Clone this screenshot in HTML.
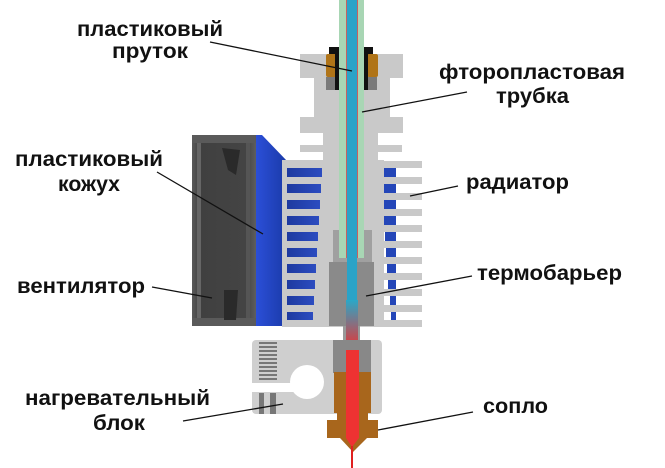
<!DOCTYPE html>
<html><head><meta charset="utf-8"><style>
html,body{margin:0;padding:0;background:#fff;}
svg{display:block;}
text{font-family:"Liberation Sans",Arial,sans-serif;font-weight:bold;font-size:21px;fill:#111;}
</style></head><body>
<svg width="665" height="468" viewBox="0 0 665 468" xmlns="http://www.w3.org/2000/svg">
<defs>
<linearGradient id="blueG" x1="0" x2="1" y1="0" y2="0">
<stop offset="0" stop-color="#2b4fd8"/><stop offset="1" stop-color="#1a3aa8"/></linearGradient>
<linearGradient id="finB" x1="0" x2="1" y1="0" y2="0">
<stop offset="0" stop-color="#1e3aa0"/><stop offset="1" stop-color="#2c4cc0"/></linearGradient>
<linearGradient id="br" x1="0" x2="0" y1="0" y2="1">
<stop offset="0" stop-color="#2aa8c8"/><stop offset="1" stop-color="#ee3030"/></linearGradient>
<linearGradient id="fanG" x1="0" x2="1" y1="0" y2="0">
<stop offset="0" stop-color="#5a5a5a"/><stop offset="0.12" stop-color="#404040"/><stop offset="0.85" stop-color="#444"/><stop offset="1" stop-color="#5e5e5e"/></linearGradient>
</defs>

<!-- fan -->
<rect x="192" y="135" width="64" height="191" fill="url(#fanG)"/>
<rect x="192" y="135" width="64" height="8" fill="#5a5a5a"/>
<rect x="192" y="318" width="64" height="8" fill="#5a5a5a"/>
<rect x="197" y="143" width="4" height="175" fill="#666"/>
<rect x="246" y="143" width="4" height="175" fill="#555"/>
<path d="M222 148 L240 150 L236 175 L228 170 Z" fill="#2a2a2a"/>
<path d="M224 290 L238 290 L236 320 L224 320 Z" fill="#2a2a2a"/>

<!-- blue shroud -->
<path d="M256 135 L262 135 L287 161 L287 326 L256 326 Z" fill="url(#blueG)"/>

<!-- heatsink top -->
<rect x="300" y="54" width="103" height="24" fill="#c9c9c9"/>
<rect x="314" y="77" width="76" height="41" fill="#c9c9c9"/>
<rect x="300" y="117" width="103" height="16" fill="#c9c9c9"/>
<rect x="323" y="133" width="55" height="28" fill="#c9c9c9"/>
<rect x="300" y="145" width="102" height="7" fill="#c9c9c9"/>

<!-- fin area -->
<rect x="282" y="160" width="41" height="167" fill="#c9c9c9"/>
<rect x="322" y="160" width="59" height="167" fill="#c9c9c9"/>
<g fill="url(#finB)">
<rect x="287" y="168" width="35" height="9"/>
<rect x="287" y="184" width="34" height="9"/>
<rect x="287" y="200" width="33" height="9"/>
<rect x="287" y="216" width="32" height="9"/>
<rect x="287" y="232" width="31" height="9"/>
<rect x="287" y="248" width="30" height="9"/>
<rect x="287" y="264" width="29" height="9"/>
<rect x="287" y="280" width="28" height="9"/>
<rect x="287" y="296" width="27" height="9"/>
<rect x="287" y="312" width="26" height="8"/>
</g>
<g fill="#c9c9c9">
<rect x="381" y="161" width="41" height="7"/>
<rect x="381" y="177" width="41" height="7"/>
<rect x="381" y="193" width="41" height="7"/>
<rect x="381" y="209" width="41" height="7"/>
<rect x="381" y="225" width="41" height="7"/>
<rect x="381" y="241" width="41" height="7"/>
<rect x="381" y="257" width="41" height="7"/>
<rect x="381" y="273" width="41" height="7"/>
<rect x="381" y="289" width="41" height="7"/>
<rect x="381" y="305" width="41" height="7"/>
<rect x="381" y="320" width="41" height="7"/>
</g>
<g fill="#2446b8">
<rect x="381" y="168" width="15" height="9"/>
<rect x="382" y="184" width="14" height="9"/>
<rect x="383" y="200" width="13" height="9"/>
<rect x="384" y="216" width="12" height="9"/>
<rect x="385" y="232" width="11" height="9"/>
<rect x="386" y="248" width="10" height="9"/>
<rect x="387" y="264" width="9" height="9"/>
<rect x="388" y="280" width="8" height="9"/>
<rect x="390" y="296" width="6" height="9"/>
<rect x="391" y="312" width="5" height="8"/>
</g>
<rect x="381" y="160" width="3" height="167" fill="#c9c9c9"/>

<!-- collet -->
<rect x="326" y="77" width="13" height="13" fill="#7a7a7a"/>
<rect x="364" y="77" width="13" height="13" fill="#7a7a7a"/>
<rect x="329" y="47" width="10" height="8" fill="#111"/>
<rect x="364" y="47" width="9" height="8" fill="#111"/>
<rect x="326" y="54" width="11" height="23" rx="2" fill="#b07418"/>
<rect x="367" y="54" width="11" height="23" rx="2" fill="#b07418"/>
<rect x="335" y="54" width="4" height="36" fill="#111"/>
<rect x="364" y="54" width="4" height="36" fill="#111"/>

<!-- heat break (behind tube) -->
<rect x="333" y="230" width="39" height="34" fill="#a0a0a0"/>
<rect x="329" y="262" width="45" height="64" fill="#8a8a8a"/>

<!-- tube -->
<rect x="339" y="0" width="25" height="258" fill="#a8d6b4"/>
<rect x="346" y="0" width="1" height="258" fill="#c86060"/>
<rect x="357" y="0" width="1" height="258" fill="#c86060"/>
<rect x="347" y="0" width="10" height="330" fill="#2aa3c8"/>

<!-- gap section -->
<rect x="343" y="326" width="17" height="16" fill="#999"/>
<rect x="346" y="300" width="12" height="50" fill="url(#br)"/>

<!-- heater block -->
<rect x="252" y="340" width="130" height="74" rx="4" fill="#cfcfcf"/>
<rect x="333" y="340" width="38" height="33" fill="#888"/>
<g fill="#777">
<rect x="259" y="342" width="18" height="2"/><rect x="259" y="346" width="18" height="2"/>
<rect x="259" y="350" width="18" height="2"/><rect x="259" y="354" width="18" height="2"/>
<rect x="259" y="358" width="18" height="2"/><rect x="259" y="362" width="18" height="2"/>
<rect x="259" y="366" width="18" height="2"/><rect x="259" y="370" width="18" height="2"/>
<rect x="259" y="374" width="18" height="2"/><rect x="259" y="378" width="18" height="2"/>
<rect x="259" y="393" width="5" height="21"/><rect x="270" y="393" width="6" height="21"/>
</g>
<rect x="250" y="383" width="58" height="9" fill="#fff"/>
<circle cx="307" cy="382" r="17" fill="#fff"/>

<!-- nozzle -->
<rect x="334" y="372" width="37" height="41" fill="#a8661c"/>
<rect x="337" y="410" width="31" height="11" fill="#a8661c"/>
<rect x="327" y="420" width="51" height="18" fill="#a8661c"/>
<path d="M340 438 L367 438 L353 452 Z" fill="#a8661c"/>
<path d="M346 350 L359 350 L359 438 L352 447 L346 438 Z" fill="#ee3232"/>
<rect x="351" y="446" width="2" height="22" fill="#e02020"/>

<!-- leader lines -->
<g stroke="#111" stroke-width="1.3" fill="none">
<line x1="210" y1="42" x2="352" y2="71"/>
<line x1="467" y1="92" x2="362" y2="112"/>
<line x1="157" y1="172" x2="263" y2="234"/>
<line x1="458" y1="186" x2="410" y2="196"/>
<line x1="152" y1="287" x2="212" y2="298"/>
<line x1="472" y1="276" x2="366" y2="296"/>
<line x1="183" y1="421" x2="283" y2="404"/>
<line x1="473" y1="412" x2="378" y2="430"/>
</g>

<!-- labels -->
<text x="77" y="36" textLength="146" lengthAdjust="spacingAndGlyphs">пластиковый</text>
<text x="112" y="58" textLength="76" lengthAdjust="spacingAndGlyphs">пруток</text>
<text x="439" y="79" textLength="186" lengthAdjust="spacingAndGlyphs">фторопластовая</text>
<text x="496" y="103" textLength="73" lengthAdjust="spacingAndGlyphs">трубка</text>
<text x="15" y="166" textLength="148" lengthAdjust="spacingAndGlyphs">пластиковый</text>
<text x="58" y="191" textLength="62" lengthAdjust="spacingAndGlyphs">кожух</text>
<text x="466" y="189" textLength="103" lengthAdjust="spacingAndGlyphs">радиатор</text>
<text x="477" y="280" textLength="145" lengthAdjust="spacingAndGlyphs">термобарьер</text>
<text x="17" y="293" textLength="128" lengthAdjust="spacingAndGlyphs">вентилятор</text>
<text x="25" y="405" textLength="185" lengthAdjust="spacingAndGlyphs">нагревательный</text>
<text x="93" y="430" textLength="52" lengthAdjust="spacingAndGlyphs">блок</text>
<text x="483" y="413" textLength="65" lengthAdjust="spacingAndGlyphs">сопло</text>
</svg>
</body></html>
